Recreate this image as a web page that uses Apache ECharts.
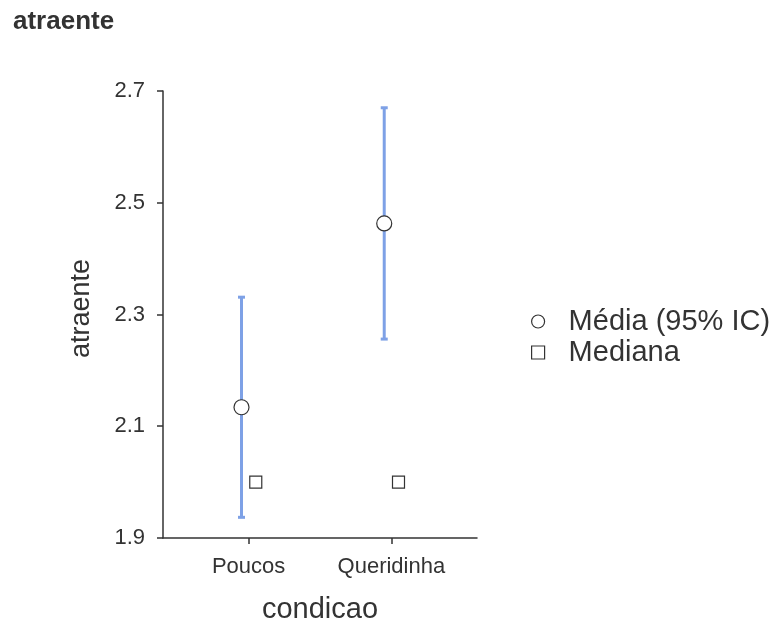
<!DOCTYPE html>
<html>
<head>
<meta charset="utf-8">
<script src="https://cdn.jsdelivr.net/npm/echarts@6/dist/echarts.min.js"></script>
<style>
  html, body { margin: 0; padding: 0; background: #fff; }
  #chart { width: 774px; height: 623px; }
</style>
</head>
<body>
<div id="chart"></div>
<script>
// Categories and summary statistics for "atraente" by condicao
const categories = ['Poucos', 'Queridinha'];
const means = [2.134, 2.463];
const ciLower = [1.937, 2.256];
const ciUpper = [2.331, 2.670];
const medians = [2.0, 2.0];
const yTicks = [1.9, 2.1, 2.3, 2.5, 2.7];

const FONT = '"Liberation Sans", Arial, sans-serif';
const INK = '#333333';
const BAR = '#7ea1e6';
const DODGE = 0.05;

const meanPts = means.map((v, i) => [i + 1 - DODGE, v]);
const medianPts = medians.map((v, i) => [i + 1 + DODGE, v]);
const ciPts = means.map((v, i) => [i + 1 - DODGE, ciLower[i], ciUpper[i]]);

const chart = echarts.init(document.getElementById('chart'), null, { renderer: 'canvas' });

chart.setOption({
  animation: false,
  backgroundColor: '#ffffff',
  title: {
    text: 'atraente',
    left: 8,
    top: 4,
    textStyle: { fontFamily: FONT, fontSize: 26, fontWeight: 'bold', color: INK }
  },
  grid: { left: 163, right: 297, top: 91, bottom: 85, containLabel: false, outerBoundsMode: 'none' },
  legend: {
    orient: 'vertical',
    left: 526,
    top: 302,
    itemWidth: 13,
    itemHeight: 13,
    itemGap: 2,
    selectedMode: false,
    textStyle: { fontFamily: FONT, fontSize: 29, color: INK, padding: [0, 0, 0, 19] },
    data: [
      { name: 'Média (95% IC)', icon: 'circle',
        itemStyle: { color: '#fff', borderColor: INK, borderWidth: 1.2 } },
      { name: 'Mediana', icon: 'rect',
        itemStyle: { color: '#fff', borderColor: INK, borderWidth: 1.2 } }
    ]
  },
  xAxis: {
    type: 'value',
    min: 0.4,
    max: 2.6,
    name: 'condicao',
    nameLocation: 'middle',
    nameGap: 57,
    nameTextStyle: { fontFamily: FONT, fontSize: 29, color: INK },
    splitLine: { show: false },
    axisLine: { show: true, lineStyle: { color: INK, width: 1.5 } },
    axisTick: { show: true, length: 6, customValues: [1, 2], lineStyle: { color: INK, width: 1.5 } },
    axisLabel: {
      customValues: [1, 2],
      formatter: v => categories[Math.round(v) - 1] || '',
      fontFamily: FONT, fontSize: 22, color: INK, margin: 18
    }
  },
  yAxis: {
    type: 'value',
    min: yTicks[0],
    max: yTicks[yTicks.length - 1],
    name: 'atraente',
    nameLocation: 'middle',
    nameGap: 68,
    nameRotate: 90,
    nameTextStyle: { fontFamily: FONT, fontSize: 27, color: INK, padding: [0, 0, 0, 12] },
    splitLine: { show: false },
    axisLine: { show: true, lineStyle: { color: INK, width: 1.5 } },
    axisTick: { show: true, length: 6, customValues: yTicks, lineStyle: { color: INK, width: 1.5 } },
    axisLabel: {
      customValues: yTicks,
      formatter: v => v.toFixed(1),
      fontFamily: FONT, fontSize: 22, color: INK, margin: 18
    }
  },
  series: [
    {
      name: 'ci',
      type: 'custom',
      z: 2,
      data: ciPts,
      renderItem: function (params, api) {
        const x = api.value(0);
        const lo = api.coord([x, api.value(1)]);
        const hi = api.coord([x, api.value(2)]);
        const cap = 3.5;
        const style = { stroke: BAR, lineWidth: 3 };
        return {
          type: 'group',
          children: [
            { type: 'line', shape: { x1: lo[0], y1: lo[1], x2: hi[0], y2: hi[1] }, style: style },
            { type: 'line', shape: { x1: lo[0] - cap, y1: lo[1], x2: lo[0] + cap, y2: lo[1] }, style: style },
            { type: 'line', shape: { x1: hi[0] - cap, y1: hi[1], x2: hi[0] + cap, y2: hi[1] }, style: style }
          ]
        };
      }
    },
    {
      name: 'Média (95% IC)',
      type: 'scatter',
      z: 3,
      symbol: 'circle',
      symbolSize: 15,
      itemStyle: { color: '#fff', borderColor: INK, borderWidth: 1.2, opacity: 1 },
      data: meanPts
    },
    {
      name: 'Mediana',
      type: 'scatter',
      z: 3,
      symbol: 'rect',
      symbolSize: 12,
      itemStyle: { color: '#fff', borderColor: INK, borderWidth: 1.2, opacity: 1 },
      data: medianPts
    }
  ]
});
</script>
</body>
</html>
